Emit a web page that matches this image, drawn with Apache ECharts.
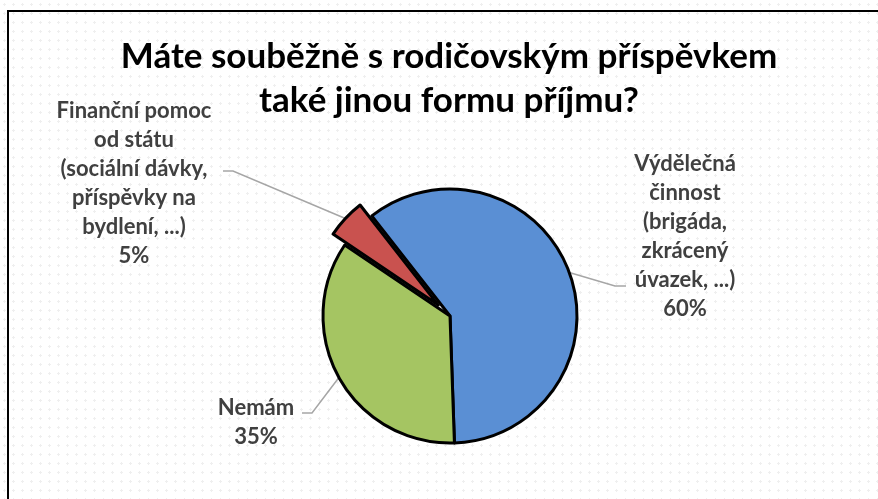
<!DOCTYPE html>
<html>
<head>
<meta charset="utf-8">
<script src="https://cdn.jsdelivr.net/npm/echarts@6/dist/echarts.min.js"></script>
<style>
  html, body { margin: 0; padding: 0; }
  body {
    background-color: #fff;
    background-image: radial-gradient(circle, #efefef 1px, transparent 1.4px);
    background-size: 9px 9px;
  }
  #main { width: 878px; height: 499px; }
</style>
</head>
<body>
<div id="main"></div>
<script>
// chart data
var categories = [
  'Výdělečná činnost (brigáda, zkrácený úvazek, ...)',
  'Nemám',
  'Finanční pomoc od státu (sociální dávky, příspěvky na bydlení, ...)'
]
var values = [60, 35, 5]
// label text as wrapped in the picture
var labelTexts = [
  'Výdělečná\nčinnost\n(brigáda,\nzkrácený\núvazek, ...)',
  'Nemám',
  'Finanční pomoc\nod státu\n(sociální dávky,\npříspěvky na\nbydlení, ...)'
]
var colors = ['#5a8fd4', '#a5c562', '#c9524f']
var explodedIndex = 2

// where each label block sits and how its leader line bends
var labelPlaces = [
  { x: 685, y: 236, bend: [[615, 286], [626, 286]] },
  { x: 256, y: 422, bend: [[312, 413], [302, 413]] },
  { x: 134, y: 183, bend: [[233, 171], [223, 171]] }
]

var pieCenter = [450, 316]
var pieRadius = 127
var explodeOffset = 16

var chart = echarts.init(document.getElementById('main'), null, { renderer: 'canvas' })

var baseSeries = {
  type: 'pie',
  center: pieCenter,
  radius: pieRadius,
  startAngle: 128,
  clockwise: true,
  avoidLabelOverlap: false,
  animation: false,
  itemStyle: { borderColor: '#000', borderWidth: 3 }
}

chart.setOption({
  backgroundColor: 'transparent',
  textStyle: { fontFamily: 'Lato, "Open Sans", sans-serif' },
  title: {
    text: 'Máte souběžně s rodičovským příspěvkem\ntaké jinou formu příjmu?',
    left: 444,
    top: 30,
    textAlign: 'center',
    textStyle: {
      fontSize: 35,
      fontWeight: 'bold',
      color: '#000',
      lineHeight: 44,
      fontFamily: 'Lato, sans-serif'
    }
  },
  graphic: [{
    type: 'rect',
    shape: { x: 8, y: 11, width: 900, height: 600 },
    style: { fill: 'none', stroke: '#000', lineWidth: 2 },
    silent: true
  }],
  series: [
    // whole pie with labels; the exploded slice is left empty here
    Object.assign({}, baseSeries, {
      label: {
        show: true,
        position: 'outer',
        color: '#404040',
        fontSize: 22,
        fontWeight: 'bold',
        lineHeight: 29,
        align: 'center',
        fontFamily: 'Lato, sans-serif',
        formatter: function (p) {
          return labelTexts[p.dataIndex] + '\n' + Math.round(p.percent) + '%'
        }
      },
      labelLine: {
        show: true,
        lineStyle: { color: '#a6a6a6', width: 1.5 }
      },
      labelLayout: function (params) {
        var place = labelPlaces[params.dataIndex]
        var start = params.labelLinePoints ? params.labelLinePoints[0].slice() : place.bend[0]
        if (params.dataIndex === explodedIndex) {
          var vx = start[0] - pieCenter[0]
          var vy = start[1] - pieCenter[1]
          var len = Math.sqrt(vx * vx + vy * vy) || 1
          start = [start[0] + vx / len * explodeOffset, start[1] + vy / len * explodeOffset]
        }
        return {
          x: place.x,
          y: place.y,
          align: 'center',
          verticalAlign: 'middle',
          labelLinePoints: [start, place.bend[0], place.bend[1]]
        }
      },
      data: categories.map(function (name, i) {
        var hidden = i === explodedIndex
        return {
          name: name,
          value: values[i],
          itemStyle: hidden
            ? { color: 'transparent', borderWidth: 0 }
            : { color: colors[i] }
        }
      })
    }),
    // same pie again, only the exploded slice drawn, pulled out
    Object.assign({}, baseSeries, {
      silent: true,
      selectedMode: 'single',
      selectedOffset: explodeOffset,
      label: { show: false },
      labelLine: { show: false },
      data: categories.map(function (name, i) {
        var shown = i === explodedIndex
        return {
          name: name,
          value: values[i],
          selected: shown,
          itemStyle: shown
            ? { color: colors[i] }
            : { color: 'transparent', borderWidth: 0 }
        }
      })
    })
  ]
})
</script>
</body>
</html>
